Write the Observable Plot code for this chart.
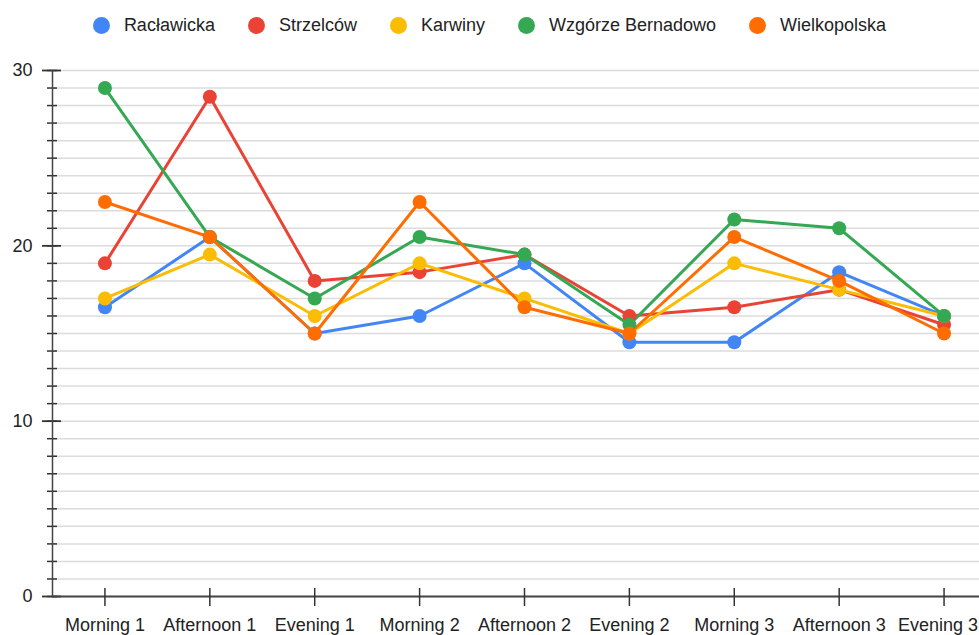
<!DOCTYPE html>
<html>
<head>
<meta charset="utf-8">
<script src="https://cdn.jsdelivr.net/npm/d3@7"></script>
<script src="https://cdn.jsdelivr.net/npm/@observablehq/plot@0.6"></script>
<style>
  html, body { margin: 0; padding: 0; background: #fff; overflow: hidden; width: 979px; height: 635px; }
  #legend { height: 50px; display: flex; justify-content: center; align-items: center; font-family: "Liberation Sans", Arial, sans-serif; font-size: 18px; color: #222; }
  .item { display: flex; align-items: center; margin: 0 16.5px; }
  .sw { width: 17px; height: 17px; border-radius: 50%; margin-right: 14px; }
  #chart { width: 979px; overflow: hidden; }
  #chart svg { display: block; overflow: visible; max-width: none !important; width: 1000px !important; height: 585px !important; }
</style>
</head>
<body>
<div id="legend"></div>
<div id="chart"></div>
<script>
const categories = ["Morning 1", "Afternoon 1", "Evening 1", "Morning 2", "Afternoon 2", "Evening 2", "Morning 3", "Afternoon 3", "Evening 3"];
const seriesNames = ["Racławicka", "Strzelców", "Karwiny", "Wzgórze Bernadowo", "Wielkopolska"];
const seriesColors = ["#4285F4", "#EA4335", "#FBBC04", "#34A853", "#FF6D01"];
const raclawicka   = [16.5, 20.5, 15, 16, 19, 14.5, 14.5, 18.5, 16];
const strzelcow    = [19, 28.5, 18, 18.5, 19.5, 16, 16.5, 17.5, 15.5];
const karwiny      = [17, 19.5, 16, 19, 17, 15, 19, 17.5, 16];
const wzgorze      = [29, 20.5, 17, 20.5, 19.5, 15.5, 21.5, 21, 16];
const wielkopolska = [22.5, 20.5, 15, 22.5, 16.5, 15, 20.5, 18, 15];
const yMajorTicks = [0, 10, 20, 30];
const yMinorTicks = d3.range(0, 31, 1);

const seriesValues = [raclawicka, strzelcow, karwiny, wzgorze, wielkopolska];
const rows = seriesNames.flatMap((name, s) =>
  seriesValues[s].map((v, i) => ({series: name, i, category: categories[i], value: v})));

// Legend
const legend = document.getElementById("legend");
seriesNames.forEach((n, k) => {
  const it = document.createElement("div");
  it.className = "item";
  const sw = document.createElement("span");
  sw.className = "sw";
  sw.style.background = seriesColors[k];
  const tx = document.createElement("span");
  tx.textContent = n;
  it.appendChild(sw); it.appendChild(tx);
  legend.appendChild(it);
});

const idx = d3.range(categories.length);
const last = categories.length - 1;

const chart = Plot.plot({
  width: 1000,
  height: 585,
  marginLeft: 52,
  marginRight: 4,
  marginTop: 20,
  marginBottom: 39,
  style: {fontFamily: "'Liberation Sans', Arial, sans-serif", fontSize: "18px", color: "#222", background: "#fff"},
  x: {type: "linear", domain: [-0.5, categories.length - 0.5]},
  y: {domain: [0, 30]},
  color: {domain: seriesNames, range: seriesColors},
  marks: [
    Plot.ruleY(yMinorTicks, {stroke: "#dcdcdc", strokeWidth: 1.5}),
    Plot.axisY(yMinorTicks, {tickSize: 10, dx: 5, tickFormat: () => "", stroke: "#333", strokeWidth: 1.5, label: null}),
    Plot.axisY(yMajorTicks, {tickSize: 19, dx: 9, tickFormat: () => "", stroke: "#333", strokeWidth: 1.8, label: null}),
    Plot.axisY(yMajorTicks, {tickSize: 0, tickPadding: 20, tickFormat: d => d, fill: "#222", label: null}),
    Plot.ruleX([-0.5], {y1: 0, y2: 30, stroke: "#444", strokeWidth: 1.5}),
    Plot.ruleY([0], {stroke: "#444", strokeWidth: 2}),
    Plot.axisX(idx, {tickSize: 18, dy: -8, tickFormat: () => "", stroke: "#333", strokeWidth: 1.5, label: null}),
    Plot.axisX(idx.slice(0, last), {tickSize: 0, tickPadding: 22, tickFormat: i => categories[i], fill: "#222", label: null}),
    Plot.axisX([last], {tickSize: 0, tickPadding: 22, dx: -6, tickFormat: i => categories[i], fill: "#222", label: null}),
    Plot.line(rows, {x: "i", y: "value", z: "series", stroke: "series", strokeWidth: 3}),
    Plot.dot(rows, {x: "i", y: "value", fill: "series", r: 7})
  ]
});
document.getElementById("chart").appendChild(chart);
</script>
</body>
</html>
